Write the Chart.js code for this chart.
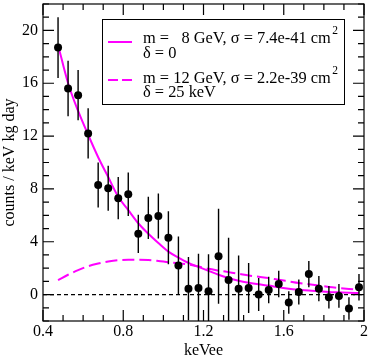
<!DOCTYPE html>
<html>
<head>
<meta charset="utf-8">
<script src="https://cdn.jsdelivr.net/npm/chart.js@4"></script>
<style>
  html, body { margin: 0; padding: 0; background: #fff; }
  #wrap { width: 369px; height: 357px; }
</style>
</head>
<body>
<div id="wrap"><canvas id="chart" width="369" height="357"></canvas></div>
<script>
"use strict";

// 1: data
const energies = [0.475, 0.525, 0.575, 0.625, 0.675, 0.725, 0.775, 0.825, 0.875, 0.925,
  0.975, 1.025, 1.075, 1.125, 1.175, 1.225, 1.275, 1.325, 1.375, 1.425,
  1.475, 1.525, 1.575, 1.625, 1.675, 1.725, 1.775, 1.825, 1.875, 1.925, 1.975];
const counts = [18.7, 15.6, 15.1, 12.2, 8.3, 8.05, 7.3, 7.6, 4.6, 5.8,
  5.95, 4.3, 2.2, 0.45, 0.5, 0.25, 2.9, 1.1, 0.45, 0.5,
  0.0, 0.35, 0.8, -0.6, 0.2, 1.55, 0.45, -0.2, -0.1, -1.05, 0.55];
const errors = [2.3, 2.1, 1.9, 1.9, 1.7, 1.7, 1.6, 1.65, 1.45, 1.6,
  1.7, 2.0, 2.2, 2.4, 2.6, 2.8, 3.6, 3.2, 2.5, 1.9,
  1.25, 1.0, 1.0, 0.85, 0.95, 1.0, 0.95, 0.85, 0.9, 0.85, 1.0];
// fitted spectra, read at the same energies
const fit8 = [18.9, 16.0, 13.9, 12.1, 10.4, 8.9, 7.4, 6.4, 5.4, 4.6,
  3.9, 3.25, 2.8, 2.4, 2.1, 1.8, 1.5, 1.25, 1.05, 0.9,
  0.78, 0.68, 0.55, 0.45, 0.37, 0.3, 0.25, 0.2, 0.17, 0.14, 0.12];
const fit12 = [1.1, 1.5, 1.85, 2.15, 2.35, 2.5, 2.6, 2.63, 2.63, 2.62,
  2.55, 2.45, 2.38, 2.28, 2.12, 1.95, 1.82, 1.7, 1.58, 1.45,
  1.35, 1.25, 1.12, 1.0, 0.88, 0.78, 0.68, 0.58, 0.5, 0.43, 0.37];
const xTicks = [0.4, 0.8, 1.2, 1.6, 2];
const yTicks = [0, 4, 8, 12, 16, 20];
const legendMass = ['8', '12'];
const legendSigma = ['7.4e-41', '2.2e-39'];
const legendDelta = ['0', '25 keV'];

const FONT = '"Liberation Serif", "Times New Roman", serif';
const MAGENTA = '#ff00ff';

// 2: prepare data for chart
function pointData(ys) {
  return energies.map((e, i) => ({x: e, y: ys[i]}));
}

function errorBarData() {
  let pts = [];
  for (let i = 0; i < energies.length; i++) {
    pts.push({x: energies[i], y: counts[i] - errors[i]});
    pts.push({x: energies[i], y: counts[i] + errors[i]});
    pts.push({x: energies[i], y: null});
  }
  return pts;
}

// frame with inward ticks on all four sides
const frameTicks = {
  id: 'frameTicks',
  afterDatasetsDraw(chart) {
    const {ctx, chartArea: a, scales: {x, y}} = chart;
    ctx.save();
    ctx.strokeStyle = '#000';
    ctx.lineWidth = 1.2;
    ctx.strokeRect(a.left, a.top, a.right - a.left, a.bottom - a.top);
    ctx.beginPath();
    for (let t = 4; t <= 20; t++) {
      const px = x.getPixelForValue(t / 10);
      const len = t % 4 === 0 ? 11 : 6;
      ctx.moveTo(px, a.bottom); ctx.lineTo(px, a.bottom - len);
      ctx.moveTo(px, a.top); ctx.lineTo(px, a.top + len);
    }
    for (let t = -2; t <= 22; t++) {
      const py = y.getPixelForValue(t);
      const len = t % 4 === 0 ? 11 : 6;
      ctx.moveTo(a.left, py); ctx.lineTo(a.left + len, py);
      ctx.moveTo(a.right, py); ctx.lineTo(a.right - len, py);
    }
    ctx.stroke();
    ctx.restore();
  }
};

// boxed legend with two-line entries
const legendBox = {
  id: 'legendBox',
  afterDraw(chart) {
    const ctx = chart.ctx;
    ctx.save();
    ctx.fillStyle = '#fff';
    ctx.fillRect(102, 19, 242, 85);
    ctx.strokeStyle = '#000';
    ctx.lineWidth = 1;
    ctx.strokeRect(102.5, 19.5, 242, 85);

    ctx.strokeStyle = MAGENTA;
    ctx.lineWidth = 2;
    ctx.beginPath();
    ctx.moveTo(108, 42); ctx.lineTo(132, 42);
    ctx.stroke();
    ctx.setLineDash([10, 4]);
    ctx.beginPath();
    ctx.moveTo(108, 80); ctx.lineTo(132, 80);
    ctx.stroke();
    ctx.setLineDash([]);

    ctx.fillStyle = '#000';
    ctx.textBaseline = 'alphabetic';
    const rows = [43, 83];
    const deltaRows = [58, 97];
    for (let i = 0; i < 2; i++) {
      ctx.font = '16.4px ' + FONT;
      const x0 = 143;
      ctx.fillText('m = ', x0, rows[i]);
      const numEnd = x0 + ctx.measureText('m = 12').width;
      const main = legendMass[i] + ' GeV, \u03c3 = ' + legendSigma[i] + ' cm';
      const numW = ctx.measureText(legendMass[i]).width;
      ctx.fillText(main, numEnd - numW, rows[i]);
      const w = ctx.measureText(main).width;
      ctx.font = '11.5px ' + FONT;
      ctx.fillText('2', numEnd - numW + w + 1.5, rows[i] - 9);
      ctx.font = '16.4px ' + FONT;
      ctx.fillText('\u03b4 = ' + legendDelta[i], x0, deltaRows[i]);
    }
    ctx.restore();
  }
};

// 3: create and append the chart
function appendChart() {
  const chartContainer = document.getElementById('chart');
  new Chart(chartContainer, {
    type: 'scatter',
    data: {
      datasets: [{
        data: pointData(counts),
        pointRadius: 4,
        pointHoverRadius: 4,
        backgroundColor: '#000',
        borderWidth: 0,
        order: 0
      },
      {
        type: 'line',
        data: errorBarData(),
        borderColor: '#000',
        borderWidth: 1.4,
        pointRadius: 0,
        spanGaps: false,
        order: 1
      },
      {
        type: 'line',
        data: pointData(fit8),
        borderColor: MAGENTA,
        borderWidth: 2,
        pointRadius: 0,
        cubicInterpolationMode: 'monotone',
        order: 2
      },
      {
        type: 'line',
        data: pointData(fit12),
        borderColor: MAGENTA,
        borderWidth: 2,
        borderDash: [12, 5],
        pointRadius: 0,
        cubicInterpolationMode: 'monotone',
        order: 3
      },
      {
        type: 'line',
        data: [{x: xTicks[0], y: 0}, {x: xTicks[xTicks.length - 1], y: 0}],
        borderColor: '#000',
        borderWidth: 1.1,
        borderDash: [4, 3],
        pointRadius: 0,
        order: 4
      }]
    },
    options: {
      responsive: false,
      animation: false,
      events: [],
      layout: {padding: {top: 1, right: 5, left: 0, bottom: 0}},
      plugins: {
        legend: {display: false},
        tooltip: {enabled: false}
      },
      scales: {
        x: {
          type: 'linear',
          min: 0.4,
          max: 2,
          afterBuildTicks: s => { s.ticks = xTicks.map(v => ({value: v})); },
          afterFit: s => { s.height = 36; s.paddingLeft = 0; s.paddingRight = 0; },
          grid: {display: false, drawTicks: false},
          border: {display: false},
          ticks: {
            callback: v => String(v),
            color: '#000',
            font: {family: FONT, size: 16},
            padding: 1,
            maxRotation: 0,
            autoSkip: false
          },
          title: {
            display: true,
            text: 'keVee',
            color: '#000',
            font: {family: FONT, size: 16, lineHeight: 0.8},
            padding: 0
          }
        },
        y: {
          min: -2,
          max: 22,
          afterBuildTicks: s => { s.ticks = yTicks.map(v => ({value: v})); },
          afterFit: s => { s.width = 43; s.paddingTop = 0; s.paddingBottom = 0; },
          grid: {display: false, drawTicks: false},
          border: {display: false},
          ticks: {
            callback: v => String(v),
            color: '#000',
            font: {family: FONT, size: 16},
            padding: 5
          },
          title: {
            display: true,
            text: 'counts / keV kg day',
            color: '#000',
            font: {family: FONT, size: 16},
            padding: 0
          }
        }
      }
    },
    plugins: [frameTicks, legendBox]
  });
}

appendChart();
</script>
</body>
</html>
